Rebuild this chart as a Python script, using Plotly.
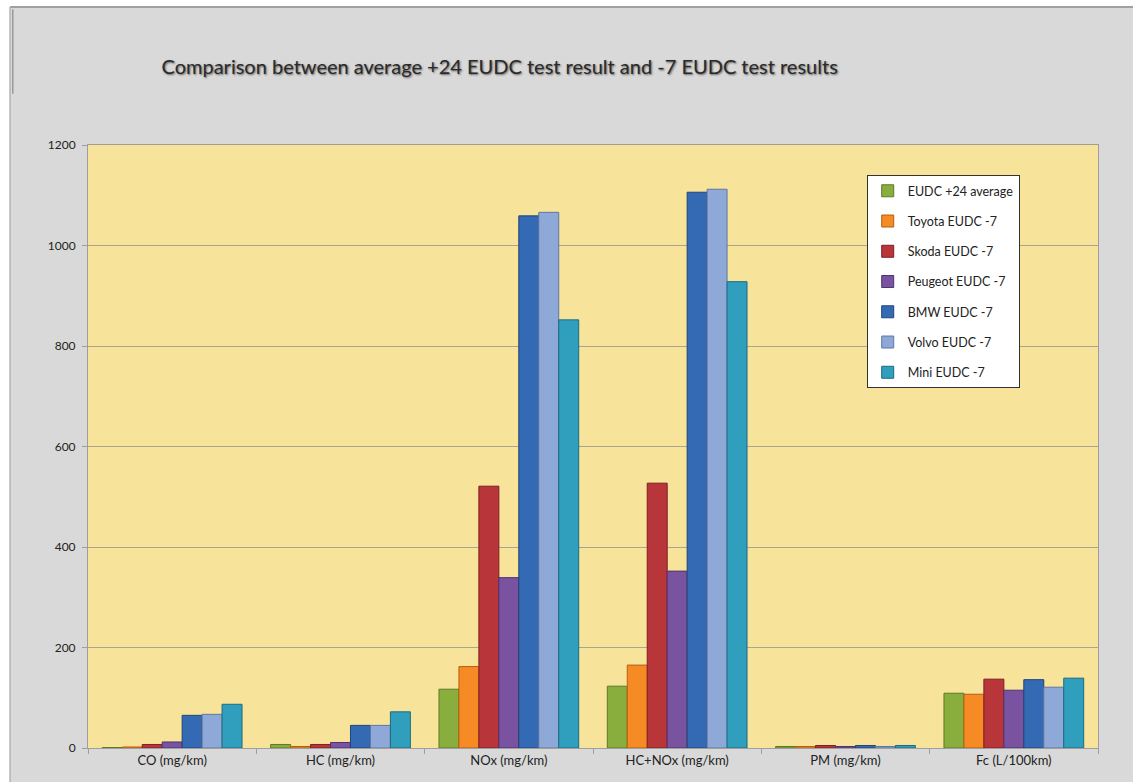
import plotly.graph_objects as go

# Emission categories on the x axis
categories = ["CO (mg/km)", "HC (mg/km)", "NOx (mg/km)", "HC+NOx (mg/km)", "PM (mg/km)", "Fc (L/100km)"]

# One list per test series (values per category)
eudc_plus24_avg = [1, 7, 117, 123, 3, 109]
toyota_minus7 = [2, 3, 162, 165, 3, 107]
skoda_minus7 = [7, 7, 521, 527, 5, 137]
peugeot_minus7 = [12, 11, 339, 352, 3, 115]
bmw_minus7 = [65, 45, 1059, 1106, 5, 136]
volvo_minus7 = [67, 45, 1066, 1112, 3, 121]
mini_minus7 = [87, 72, 852, 928, 5, 139]

series_names = ["EUDC +24 average", "Toyota EUDC -7", "Skoda EUDC -7", "Peugeot EUDC -7",
                "BMW EUDC -7", "Volvo EUDC -7", "Mini EUDC -7"]
series_values = [eudc_plus24_avg, toyota_minus7, skoda_minus7, peugeot_minus7,
                 bmw_minus7, volvo_minus7, mini_minus7]

y_ticks = [0, 200, 400, 600, 800, 1000, 1200]

fill_colors = ["#8aae3e", "#f68b25", "#b8363a", "#7953a0", "#346ab3", "#8ea9d8", "#2f9fbd"]
edge_colors = ["#5e7a25", "#b45f12", "#7e1e22", "#4f3270", "#1f4477", "#5d77a3", "#1c6b80"]

FONT = "Lato, 'Open Sans', sans-serif"

fig = go.Figure()
for name, vals, fc, ec in zip(series_names, series_values, fill_colors, edge_colors):
    fig.add_trace(go.Bar(
        name=name,
        x=categories,
        y=vals,
        legendgroup=name,
        marker=dict(color=fc, line=dict(color=ec, width=1)),
    ))

# White margin strips around the grey chart panel, and the panel border
fig.add_shape(type="rect", xref="paper", yref="paper",
              x0=-0.2, x1=1.2, y0=1.2289, y1=1.35,
              fillcolor="white", line=dict(width=0), layer="below")
fig.add_shape(type="rect", xref="paper", yref="paper",
              x0=-0.2, x1=-0.0772, y0=-0.2, y1=1.35,
              fillcolor="white", line=dict(width=0), layer="below")
fig.add_shape(type="line", xref="paper", yref="paper",
              x0=-0.0772, x1=1.2, y0=1.2289, y1=1.2289,
              line=dict(color="#a0a0a0", width=2), layer="below")
fig.add_shape(type="line", xref="paper", yref="paper",
              x0=-0.0772, x1=-0.0772, y0=-0.2, y1=1.2289,
              line=dict(color="#b4b4b4", width=1.5), layer="below")
fig.add_shape(type="line", xref="paper", yref="paper",
              x0=-0.0745, x1=-0.0745, y0=1.085, y1=1.225,
              line=dict(color="#9a9a9a", width=1.5), layer="below")

fig.update_layout(
    width=1133, height=782,
    margin=dict(l=88, r=35, t=145, b=34),
    paper_bgcolor="#d9d9d9",
    plot_bgcolor="#f8e39b",
    barmode="group",
    bargap=0.17,
    bargroupgap=0.0,
    font=dict(family=FONT, size=12, color="#222222"),
    title=dict(
        text="Comparison between average +24 EUDC test result and -7 EUDC test results",
        x=0.441, xref="container", xanchor="center",
        y=1 - 67 / 782, yref="container", yanchor="middle",
        font=dict(family=FONT, size=20, color="#2a2a2a",
                  shadow="1px 1px 2px rgba(0,0,0,0.55)"),
    ),
    xaxis=dict(
        showline=True, linecolor="#9e9e9e", linewidth=1, mirror=True,
        ticks="outside", tickson="boundaries", ticklen=5, tickcolor="#9e9e9e",
        tickfont=dict(size=13, color="#222222"),
        showgrid=False,
    ),
    yaxis=dict(
        range=[0, 1200], tickvals=y_ticks,
        showline=True, linecolor="#9e9e9e", linewidth=1, mirror=True,
        ticks="outside", ticklen=5, tickcolor="#9e9e9e",
        ticklabelstandoff=4,
        tickfont=dict(size=12, color="#222222"),
        showgrid=True, gridcolor="#a9a58e", gridwidth=1,
        zeroline=False,
    ),
    legend=dict(
        x=0.771, y=0.950, xanchor="left", yanchor="top",
        bgcolor="white", bordercolor="#333333", borderwidth=1,
        font=dict(size=12.5, color="#222222"),
        tracegroupgap=11,
        traceorder="grouped",
    ),
    showlegend=True,
)

fig.write_html("out.html")
